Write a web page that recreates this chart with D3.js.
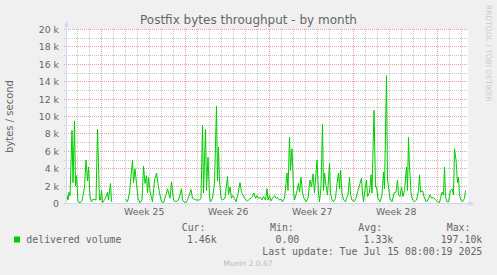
<!DOCTYPE html>
<html><head><meta charset="utf-8">
<script src="https://cdn.jsdelivr.net/npm/d3@7"></script>
<style>
html,body{margin:0;padding:0;background:#F0F0F0;}
svg{display:block;}
text{font-family:"DejaVu Sans",sans-serif;fill:#666666;}
.mono{font-family:"DejaVu Sans Mono",monospace;}
</style></head><body>
<svg id="c" width="497" height="275"></svg>
<script>
// ---- data ----
const title = "Postfix bytes throughput - by month";
const yAxisTitle = "bytes / second";
// sample times, in hours after the start of the graph window
const hours = [0,2,4,6,10,12,15,17,19,22,26,30,35,38,41,43,46,49,52,58,61,65,67,69,71,77,81,83,87,89,
  100,
  117,121,125,129,131,133,136,139,142,146,150,153,156,159,161,163,166,169,171,175,179,182,185,189,193,198,201,
  206,209,213,218,223,229,231,237,241,248,251,258,265,268,271,273,277,279,282,285,287,291,295,299,301,303,305,
  308,311,316,321,323,326,329,331,335,338,342,346,349,351,355,358,361,365,368,371,374,377,380,383,387,390,393,
  397,400,402,405,408,411,415,418,421,425,428,431,435,438,440,442,445,447,450,453,455,459,463,465,468,471,474,
  478,482,486,489,492,495,500,503,505,508,511,513,515,518,521,525,527,530,533,537,540,543,545,547,550,553,557,
  559,562,565,567,570,574,578,582,586,589,591,593,597,599,601,605,608,610,614,617,619,622,626,630,633,635,639,
  641,643,646,650,654,658,661,663,666,669,672,675,679,681,683,685,688,691,695,699,703,705,707,711,714,718,722,
  726,729,733,737,741,745,747,750,753,755,757,760,763,767,770,773,775,778,781,783,785,788,791,795,797];
// delivered volume, bytes / second (null = no data)
const values = [1000,400,1300,900,8400,2400,9500,2000,3200,200,100,300,1900,5000,2600,4200,800,200,500,400,8500,400,400,1500,100,600,1300,400,2300,200,
  null,
  500,200,1200,3800,5000,2400,4000,2300,600,100,400,4300,2300,3200,1200,3000,1500,600,200,2700,3500,2300,1200,200,100,1000,1700,
  600,2500,400,200,400,1700,400,0,400,1600,600,400,400,600,9000,1200,8500,1500,5300,800,200,600,2300,11200,2600,6500,2600,
  600,400,600,3100,1000,1900,600,900,600,200,1100,2400,1300,1100,600,400,300,500,600,800,1200,600,900,600,700,400,800,
  400,1700,400,900,300,600,900,600,700,400,500,200,600,2300,3500,1500,7600,3800,6300,1500,400,1200,2300,1300,3000,1300,600,
  200,600,2700,1900,3400,1200,5000,1200,200,1900,9100,1500,3500,2100,1000,4600,1200,400,200,600,2300,3500,1700,3800,1200,400,200,
  600,1000,3000,1000,400,200,600,1500,2300,2900,1200,200,2000,2700,800,1300,3300,1200,10700,1900,1900,600,200,1000,3600,1700,14700,
  2700,1900,600,200,1200,1300,2700,1000,800,1900,800,1500,4200,1500,7600,4200,1200,400,200,400,1500,3300,1300,1500,800,200,400,
  1000,600,700,400,200,100,600,1300,1000,4200,800,200,200,1500,1700,1000,6300,5000,2400,3000,1000,400,200,600,1500];
const windowStart = [2025, 5, 12, 2, 30];   // local time (month is 0-based)
const windowHours = 800;
const yTicks = [0,2000,4000,6000,8000,10000,12000,14000,16000,18000,20000];
const yTickLabels = ["0","2 k","4 k","6 k","8 k","10 k","12 k","14 k","16 k","18 k","20 k"];
const weekLabels = ["Week 25","Week 26","Week 27","Week 28"];
const weekMidpoints = ["2025-06-18T12:00","2025-06-25T12:00","2025-07-02T12:00","2025-07-09T12:00"];
const seriesName = "delivered volume";
const statLabels = ["Cur:","Min:","Avg:","Max:"];
const statValues = ["1.46k","0.00","1.33k","197.10k"];
const lastUpdate = "Last update: Tue Jul 15 08:00:19 2025";
const footer = "Munin 2.0.67";
const watermark = "RRDTOOL / TOBI OETIKER";

// ---- layout ----
const W = 497, H = 275;
const X0 = 67, X1 = 467, YT = 29.5, YB = 203.5;
const lineColor = "#00CC00";
const axisColor = "#CFD6F8";

const svg = d3.select("#c");
svg.append("rect").attr("width", W).attr("height", H).attr("fill", "#F0F0F0");

const start = new Date(...windowStart);
const end = new Date(start.getTime() + windowHours * 3600e3);
const x = d3.scaleTime().domain([start, end]).range([X0, X1]);
const y = d3.scaleLinear().domain([0, 20000]).range([YB, YT]);
const crisp = v => Math.round(v - 0.5) + 0.5;

// canvas
svg.append("rect").attr("x", X0).attr("y", YT - 0.5).attr("width", X1 - X0 + 1).attr("height", YB - YT + 0.5).attr("fill", "#FFFFFF");

const grid = svg.append("g").attr("stroke-width", 1).attr("stroke-dasharray", "1,1").attr("fill", "none");
// minor horizontal grid
const yMinor = d3.range(0, 20001, 1000);
grid.selectAll("line.hmin").data(yMinor.filter(v => v % 2000 !== 0)).join("line")
  .attr("x1", X0 - 3).attr("x2", X1).attr("y1", d => crisp(y(d))).attr("y2", d => crisp(y(d)))
  .attr("stroke", "#C8C8C8");
// minor vertical grid (days)
const days = d3.timeDay.range(start, end);
grid.selectAll("line.vmin").data(days.filter(d => d.getDay() !== 0)).join("line")
  .attr("x1", d => crisp(x(d))).attr("x2", d => crisp(x(d))).attr("y1", YT - 0.5).attr("y2", YB + 2)
  .attr("stroke", "#C8C8C8");
// major horizontal grid
grid.selectAll("line.hmaj").data(yTicks).join("line")
  .attr("x1", X0 - 3).attr("x2", X1).attr("y1", d => crisp(y(d))).attr("y2", d => crisp(y(d)))
  .attr("stroke", "#E9A0A0");
// major vertical grid (weeks)
const weeks = d3.timeSunday.range(start, end);
grid.selectAll("line.vmaj").data(weeks).join("line")
  .attr("x1", d => crisp(x(d))).attr("x2", d => crisp(x(d))).attr("y1", YT - 0.5).attr("y2", YB + 3)
  .attr("stroke", "#E9A0A0");

// data line
const pts = hours.map((h, i) => ({t: new Date(start.getTime() + h * 3600e3), v: values[i]}));
const line = d3.line().defined(d => d.v !== null).x(d => x(d.t)).y(d => y(d.v));
svg.append("path").datum(pts).attr("d", line).attr("fill", "none")
  .attr("stroke", lineColor).attr("stroke-width", 1).attr("stroke-linejoin", "round");

// axes lines + arrows
svg.append("line").attr("x1", X0 - 0.5).attr("x2", X0 - 0.5).attr("y1", YB + 0.5).attr("y2", 25)
  .attr("stroke", axisColor);
svg.append("path").attr("d", `M${X0 - 3},26.5 L${X0 - 0.5},21 L${X0 + 2},26.5 Z`).attr("fill", axisColor);
svg.append("line").attr("x1", X0 - 1).attr("x2", X1 + 3).attr("y1", YB).attr("y2", YB)
  .attr("stroke", axisColor);
svg.append("path").attr("d", `M${X1 + 1.5},${YB - 2.5} L${X1 + 7},${YB} L${X1 + 1.5},${YB + 2.5} Z`).attr("fill", axisColor);

// y axis labels
const yAxis = d3.axisLeft(y).tickValues(yTicks).tickFormat((d, i) => yTickLabels[i]).tickSize(0).tickPadding(8);
const gy = svg.append("g").attr("transform", `translate(${X0},0)`).call(yAxis);
gy.select(".domain").remove();
gy.selectAll("text").attr("font-family", "DejaVu Sans").attr("font-size", "9.33px").attr("fill", "#666666");

// x axis labels
const xAxis = d3.axisBottom(x).tickValues(weekMidpoints.map(s => new Date(s)))
  .tickFormat((d, i) => weekLabels[i]).tickSize(0).tickPadding(5.5);
const gx = svg.append("g").attr("transform", `translate(0,${YB - 0.5})`).call(xAxis);
gx.select(".domain").remove();
gx.selectAll("text").attr("font-family", "DejaVu Sans").attr("font-size", "9.33px").attr("fill", "#666666");

// title
svg.append("text").attr("x", W / 2).attr("y", 24).attr("text-anchor", "middle")
  .attr("font-size", "12px").text(title);
// y axis title
svg.append("text").attr("transform", `translate(12.8,${(YT + YB) / 2}) rotate(-90)`)
  .attr("text-anchor", "middle").attr("font-size", "10px").text(yAxisTitle);
// watermark
svg.append("text").attr("transform", "translate(485.5,5) rotate(90)")
  .attr("font-size", "7.5px").style("fill", "#CCCCCC").text(watermark);

// legend
svg.append("rect").attr("x", 14).attr("y", 236.5).attr("width", 6).attr("height", 6).attr("fill", lineColor);
svg.append("text").attr("class", "mono").attr("x", 26.3).attr("y", 243).attr("font-size", "9.9px").text(seriesName);
const labelX = [181.7, 270, 358.3, 446.7];
const valueEnd = [216.7, 299.3, 393.3, 482.3];
statLabels.forEach((s, i) => {
  svg.append("text").attr("class", "mono").attr("x", labelX[i]).attr("y", 231).attr("font-size", "9.9px").text(s);
});
statValues.forEach((s, i) => {
  svg.append("text").attr("class", "mono").attr("x", valueEnd[i]).attr("y", 243).attr("text-anchor", "end")
    .attr("font-size", "9.9px").text(s);
});
svg.append("text").attr("class", "mono").attr("x", 482.3).attr("y", 255).attr("text-anchor", "end")
  .attr("font-size", "9.9px").text(lastUpdate);
svg.append("text").attr("x", 248).attr("y", 266).attr("text-anchor", "middle")
  .attr("font-size", "7.5px").style("fill", "#BBBBBB").text(footer);
</script>
</body></html>
